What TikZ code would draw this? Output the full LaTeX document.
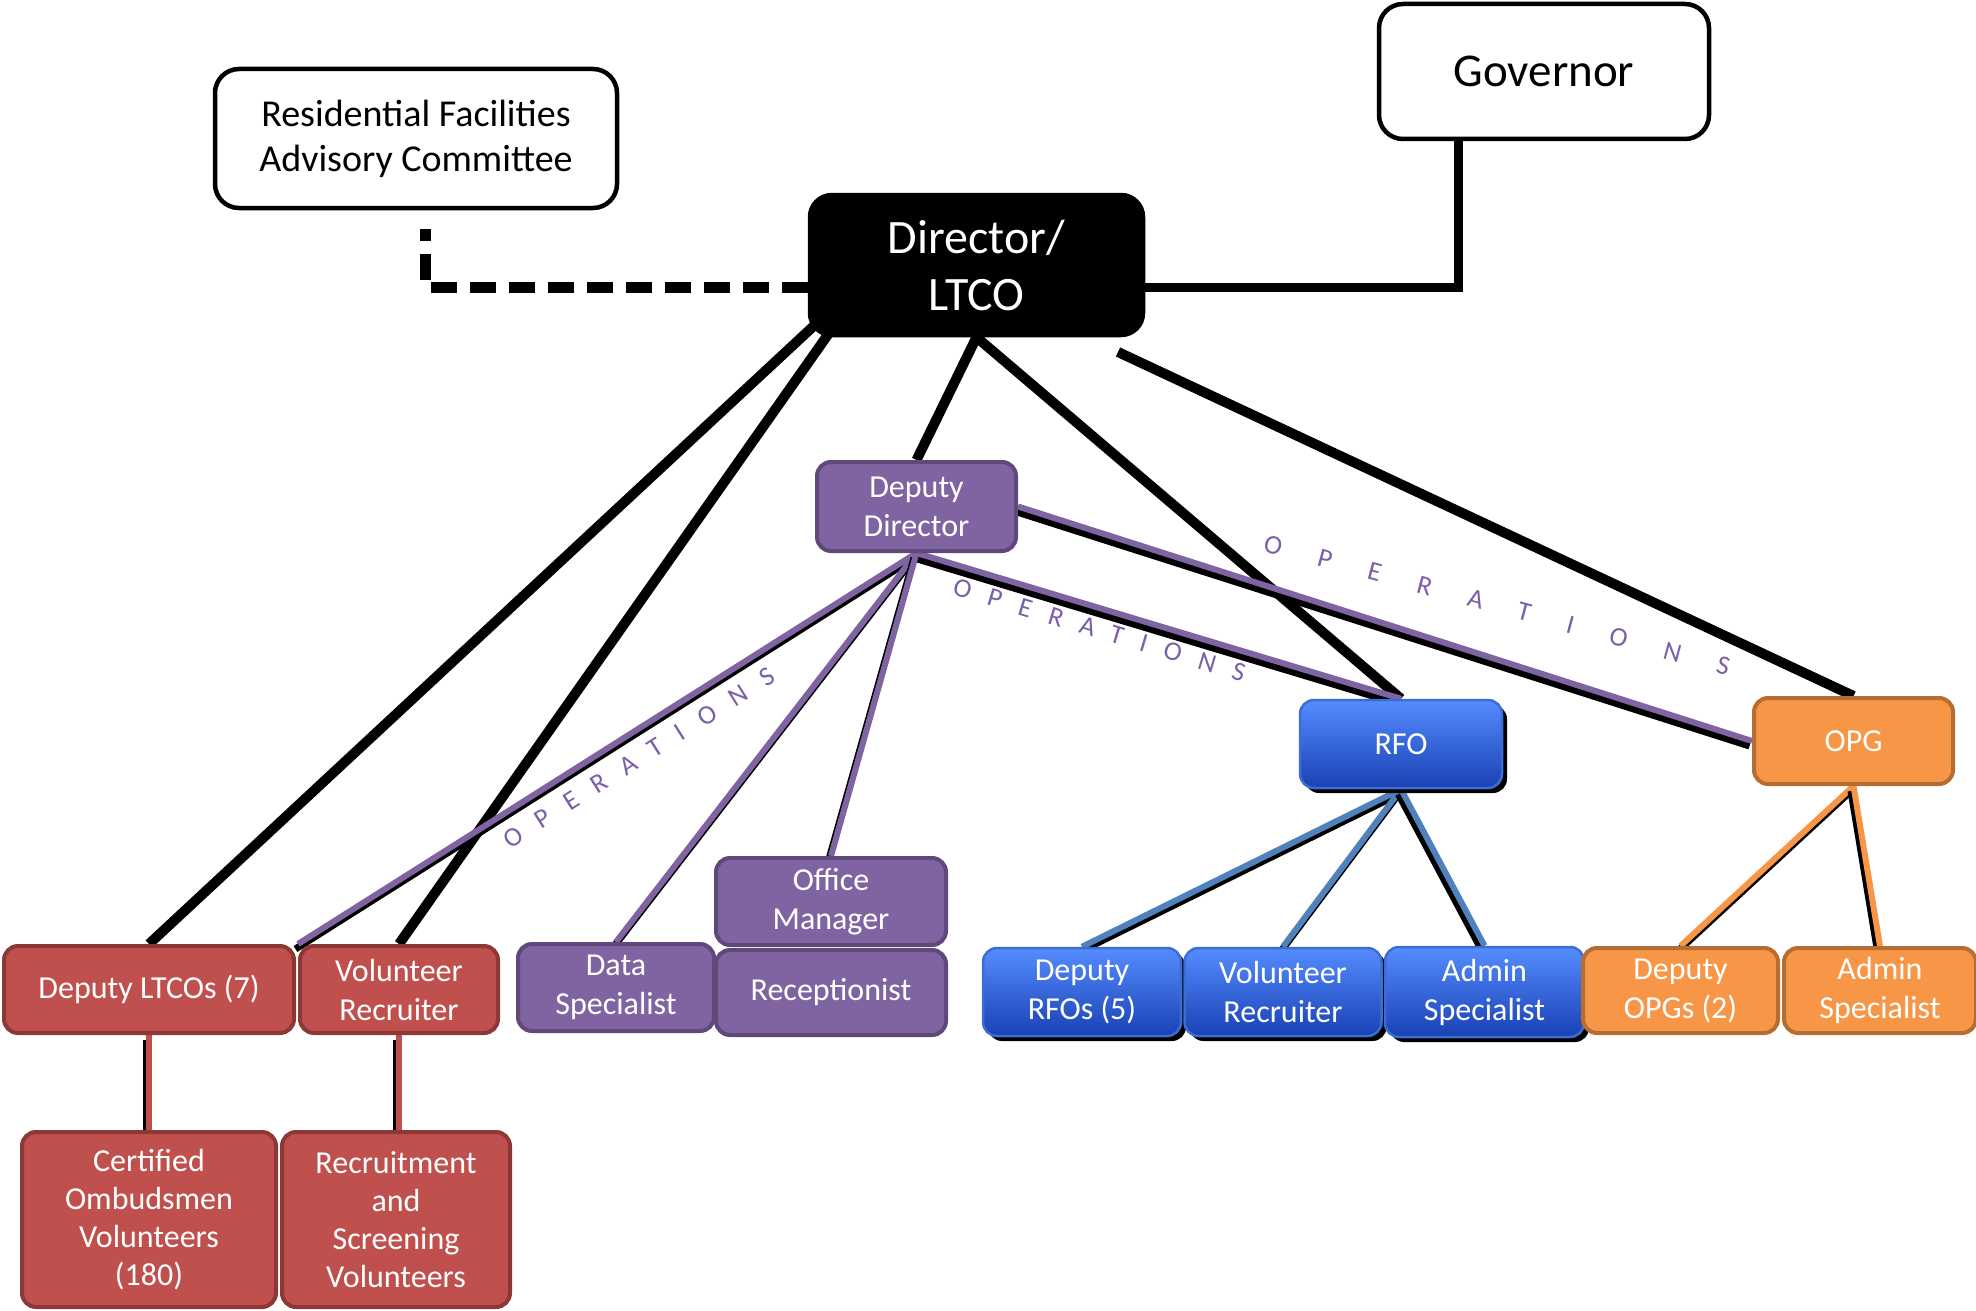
\documentclass[tikz,border=0pt]{standalone}
\usepackage{fontspec}
\setmainfont{Carlito}
\usepackage{tikz}
\usetikzlibrary{positioning}
\usetikzlibrary{shadows}
\usepackage{xcolor}
\definecolor{opsviolet} {RGB} {128,100,162}
\definecolor{opsvioletdark} {RGB} {94,73,122}
\definecolor{opsred} {RGB} {192,80,77}
\definecolor{opsreddark} {RGB} {140,56,54}
\definecolor{opsorange} {RGB} {247,150,70}
\definecolor{opsorangedark} {RGB} {182,109,49}
\definecolor{opsbluetop} {RGB} {85,140,255}
\definecolor{opsbluebot} {RGB} {25,65,180}
\definecolor{opsbluedark} {RGB} {60,110,210}
\definecolor{opsblueline} {RGB} {79,129,189}
\definecolor{opstext} {RGB} {122,96,168}
\pgfdeclarelayer{bg}
\pgfsetlayers{bg,main}
\tikzset{
  B/.style={rectangle,rounded corners=14pt,align=center,text=white,inner sep=0pt,line width=4pt,font=\fontsize{32}{39}\selectfont},
  V/.style={B,fill=opsviolet,draw=opsvioletdark},
  R/.style={B,fill=opsred,draw=opsreddark},
  O/.style={B,fill=opsorange,draw=opsorangedark},
  U/.style={B,top color=opsbluetop,bottom color=opsbluebot,draw=opsbluedark,line width=2.5pt,
    drop shadow={shadow xshift=5pt,shadow yshift=-5pt,fill=black,opacity=1}},
  W/.style={rectangle,rounded corners=24pt,align=center,fill=white,draw=black,line width=4.5pt,inner sep=0pt},
  K/.style={line width=10pt,black},
  opslabel/.style={font=\fontsize{27}{30}\selectfont,text=opstext,inner sep=0pt},
}
\newcommand{\duo}[3]{%
  \draw [line width=7pt,black,transform canvas={xshift=-2.5pt,yshift=-5pt}] (#2) -- (#3);
  \draw [line width=6pt,#1] (#2) -- (#3);}

\begin{document}
\begin{tikzpicture}[x=1pt,y=-1pt]
  \useasboundingbox (0,0) rectangle (1976,1311);

  \node [W,minimum width=402pt,minimum height=139pt,font=\fontsize{38}{45}\selectfont] (rfac) at (416,138.5) {Residential Facilities\\Advisory Committee};
  \node [W,minimum width=330pt,minimum height=135pt,font=\fontsize{47}{55}\selectfont] (gov) at (1544,71.5) {Governor};
  \node [W,fill=black,text=white,rounded corners=22pt,minimum width=333pt,minimum height=140pt,font=\fontsize{48}{57}\selectfont] (dir) at (976.5,265) {Director/\\LTCO};

  \node [V,minimum width=199pt,minimum height=89pt] (ddir) at (916.5,506.5) {Deputy\\Director};
  \node [U,minimum width=202pt,minimum height=88pt] (rfo) at (1401,744) {RFO};
  \node [O,minimum width=199pt,minimum height=86pt] (opg) at (1853.5,741) {OPG};

  \node [V,minimum width=230pt,minimum height=87pt] (offm) at (831,901.5) {Office\\Manager};
  \node [V,minimum width=230pt,minimum height=85pt,below=1pt of offm] (recep) {Receptionist};
  \node [V,minimum width=196pt,minimum height=87pt] (data) at (616,987.5) {Data\\Specialist};

  \node [R,minimum width=290pt,minimum height=87pt] (ltcos) at (149,989.5) {Deputy LTCOs (7)};
  \node [R,minimum width=198pt,minimum height=87pt,right=2pt of ltcos] (vrecr) {Volunteer\\Recruiter};
  \node [R,minimum width=254pt,minimum height=175pt,font=\fontsize{32}{38}\selectfont] (cert) at (149,1219.5) {Certified\\Ombudsmen\\Volunteers\\(180)};
  \node [R,minimum width=228pt,minimum height=175pt,font=\fontsize{32}{38}\selectfont] (rsv) at (396,1219.5) {Recruitment\\and\\Screening\\Volunteers};

  \node [U,minimum width=198pt,minimum height=88pt] (drfo) at (1082,992) {Deputy\\RFOs (5)};
  \node [U,minimum width=197pt,minimum height=88pt,right=1pt of drfo] (vrecb) {Volunteer\\Recruiter};
  \node [U,minimum width=199pt,minimum height=90pt,right=1pt of vrecb] (adminb) {Admin\\Specialist};
  \node [O,minimum width=195pt,minimum height=85pt] (dopg) at (1680.5,990.5) {Deputy\\OPGs (2)};
  \node [O,minimum width=192pt,minimum height=85pt,right=2pt of dopg] (admino) {Admin\\Specialist};

  \coordinate (dirl1) at (818,322);
  \coordinate (dirl2) at (834,326);
  \coordinate (dirl5) at (1118,352);
  \coordinate (rfacend) at ([shift={(9,19)}]rfac.south);

  \begin{pgfonlayer}{bg}
    \draw [K,line width=11pt,dash pattern=on 26pt off 13pt] ([yshift=-22pt]dir.west) -| (rfacend);
    \draw [K,line width=9pt] ([yshift=-22pt]dir.east) -| ([xshift=-86pt]gov.south);
    \draw [K] (dirl1) -- (ltcos.north);
    \draw [K] (dirl2) -- (vrecr.north);
    \draw [K] (dir.south) -- (ddir.north);
    \draw [K] (dir.south) -- (rfo.north);
    \draw [K] (dirl5) -- (opg.north);

    \duo{opsviolet}{ddir.east}{opg.west}
    \duo{opsviolet}{ddir.south}{rfo.north}
    \duo{opsviolet}{ddir.south}{vrecr.north west}
    \duo{opsviolet}{ddir.south}{data.north}
    \duo{opsviolet}{ddir.south}{offm.north}

    \duo{opsred}{ltcos.south}{ltcos.south |- cert.north}
    \duo{opsred}{vrecr.south}{vrecr.south |- rsv.north}

    \duo{opsblueline}{rfo.south}{drfo.north}
    \duo{opsblueline}{rfo.south}{vrecb.north}
    \duo{opsblueline}{rfo.south}{adminb.north}

    \duo{opsorange}{opg.south}{dopg.north}
    \duo{opsorange}{opg.south}{admino.north}
  \end{pgfonlayer}

  \path (ddir.south) -- (vrecr.north west) node [opslabel,sloped,pos=.47,below=16pt] (ops1) {\addfontfeatures{LetterSpace=72}OPERATIONS};
  \path (ddir.south) -- (rfo.north) node [opslabel,sloped,pos=.39,below=12pt] (ops2) {\addfontfeatures{LetterSpace=67}OPERATIONS};
  \node [opslabel,rotate=-15] (ops3) at (1497,605) {\addfontfeatures{LetterSpace=140}OPERATIONS};
\end{tikzpicture}
\end{document}
